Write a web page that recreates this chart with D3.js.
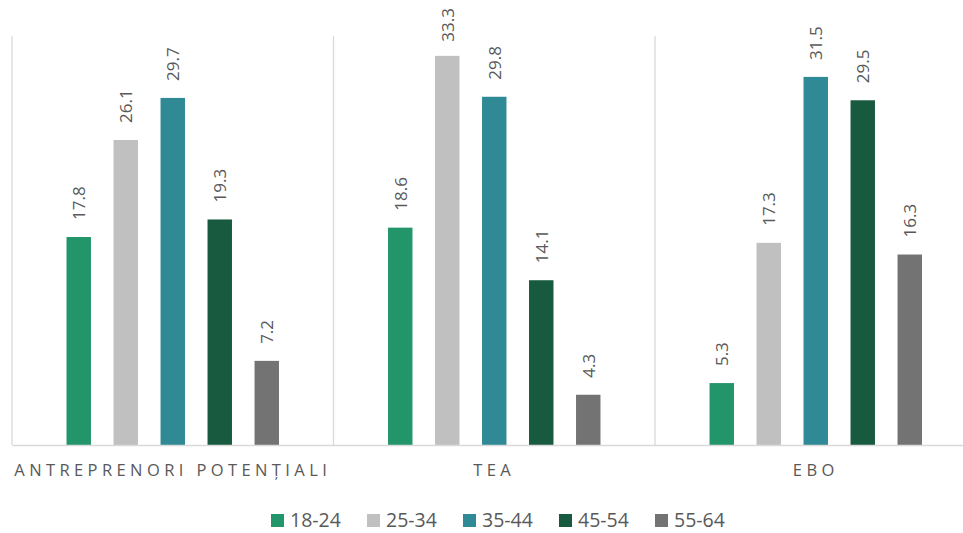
<!DOCTYPE html>
<html>
<head>
<meta charset="utf-8">
<script src="https://cdn.jsdelivr.net/npm/d3@7"></script>
<style>
  html, body { margin: 0; padding: 0; background: #fff; }
  svg { display: block; font-family: "Open Sans", "Noto Sans", sans-serif; }
</style>
</head>
<body>
<svg id="chart" width="963" height="533"></svg>
<script>
// Categories and age groups
const categories = ["ANTREPRENORI POTENȚIALI", "TEA", "EBO"];
const ageGroups = ["18-24", "25-34", "35-44", "45-54", "55-64"];

// Values per age group, one entry per category
const v18_24 = [17.8, 18.6, 5.3];
const v25_34 = [26.1, 33.3, 17.3];
const v35_44 = [29.7, 29.8, 31.5];
const v45_54 = [19.3, 14.1, 29.5];
const v55_64 = [7.2, 4.3, 16.3];

const seriesValues = [v18_24, v25_34, v35_44, v45_54, v55_64];
const colors = ["#23956A", "#C0C0C0", "#2F8A96", "#175A40", "#737373"];

const svg = d3.select("#chart");
const plot = { left: 12, right: 976.5, top: 36, bottom: 445 };

const x0 = d3.scaleBand().domain(categories).range([plot.left, plot.right]).paddingInner(0).paddingOuter(0);
const x1 = d3.scaleBand().domain(ageGroups).range([0, x0.bandwidth()])
  .paddingInner(0.48).paddingOuter(1.16);
const y = d3.scaleLinear().domain([0, 35]).range([plot.bottom, plot.top]);

// vertical separators between categories
const seps = categories.map(c => x0(c)).concat([plot.right]);
svg.append("g").selectAll("line").data(seps).join("line")
  .attr("x1", d => d).attr("x2", d => d)
  .attr("y1", plot.top).attr("y2", plot.bottom)
  .attr("stroke", "#D9D9D9").attr("stroke-width", 1.3);

// bars
const rows = [];
categories.forEach((c, ci) => {
  ageGroups.forEach((g, gi) => rows.push({ cat: c, group: g, gi, value: seriesValues[gi][ci] }));
});

const gBars = svg.append("g");
gBars.selectAll("rect").data(rows).join("rect")
  .attr("x", d => x0(d.cat) + x1(d.group))
  .attr("y", d => y(d.value))
  .attr("width", x1.bandwidth())
  .attr("height", d => y(0) - y(d.value))
  .attr("fill", d => colors[d.gi]);

// value labels, rotated; kept inside the top of the chart area
const labels = gBars.selectAll("text").data(rows).join("text")
  .attr("text-anchor", "start")
  .attr("font-size", 17)
  .attr("fill", "#595959")
  .text(d => d.value.toFixed(1));
labels.attr("transform", function (d) {
  const cx = x0(d.cat) + x1(d.group) + x1.bandwidth() / 2;
  const len = this.getComputedTextLength();
  const start = Math.max(y(d.value) - 17, 8 + len);
  return `translate(${cx + 6.5},${start}) rotate(-90)`;
});

// baseline axis
const xAxis = d3.axisBottom(x0).tickSize(0).tickPadding(19);
const ax = svg.append("g").attr("transform", `translate(0,${plot.bottom})`).call(xAxis);
ax.select(".domain").attr("stroke", "#D9D9D9").attr("stroke-width", 1.5);
ax.selectAll("text")
  .attr("font-size", 16.5)
  .attr("fill", "#595959")
  .attr("letter-spacing", "4.4px")
  .style("font-family", "'Open Sans', sans-serif");

// legend
const legend = svg.append("g").attr("transform", "translate(271,514)");
const item = legend.selectAll("g").data(ageGroups).join("g")
  .attr("transform", (d, i) => `translate(${i * 96},0)`);
item.append("rect").attr("width", 13).attr("height", 13).attr("fill", (d, i) => colors[i]);
item.append("text").attr("x", 19).attr("y", 13)
  .attr("font-size", 19.5).attr("fill", "#595959").text(d => d);
</script>
</body>
</html>
